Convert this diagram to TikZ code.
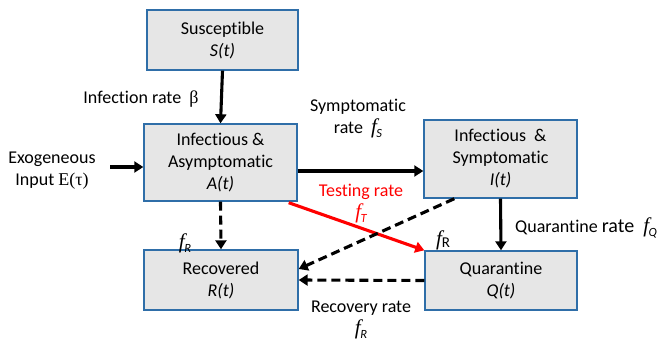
\documentclass[tikz,border=0pt]{standalone}
\usepackage{fontspec}
\setmainfont{Carlito}[RawFeature=-liga]
\newfontfamily\grk{Liberation Serif}
\usetikzlibrary{arrows.meta}
\definecolor{boxfill}{HTML}{E6E6E6}
\definecolor{boxline}{HTML}{2F6EA8}
\definecolor{testred}{HTML}{FF0000}
% an italic rate symbol f with a subscript
\newcommand\ratesym[1]{{\grk\itshape\fontsize{21}{22}\selectfont f}\kern-0.5pt\raisebox{-0.45ex}{\fontsize{12.5}{12}\selectfont\itshape #1}}
\tikzset{
  compartment/.style={draw=boxline, line width=1.4pt, fill=boxfill,
    align=center, inner sep=0pt, font=\fontsize{18}{22}\selectfont},
  flow/.style={line width=3.1pt, -{Triangle[length=9pt,width=11pt]}},
  recov/.style={flow, dash pattern=on 9pt off 5pt},
  lbl/.style={align=center, inner sep=0pt, font=\fontsize{18}{22}\selectfont}
}
\begin{document}
\begin{tikzpicture}[x=1pt,y=-1pt]
\useasboundingbox (0,0) rectangle (665,343);

% compartments
\node[compartment, minimum width=151pt, minimum height=60pt] (S) at (222.5,40)
  {Susceptible\\\textit{S(t)}};
\node[compartment, minimum width=153pt, minimum height=77pt] (A) at (220.5,162.5)
  {Infectious \&\\Asymptomatic\\\textit{A(t)}};
\node[compartment, minimum width=153pt, minimum height=78pt] (I) at (500.5,159)
  {Infectious \ \&\\Symptomatic\\\textit{I(t)}};
\node[compartment, minimum width=154pt, minimum height=60pt] (R) at (221,280)
  {Recovered\\\textit{R(t)}};
\node[compartment, minimum width=152pt, minimum height=59pt] (Q) at (501,280.5)
  {Quarantine\\\textit{Q(t)}};

% helper points
\coordinate (exo) at (110,167);
\coordinate (asym) at ([yshift=-8.5pt]A.east);

% flows
\draw[flow] (S.south) -- (A.north);
\draw[flow] (exo) -- (exo -| A.west);
\draw[flow] (asym) -- (asym -| I.west);
\draw[flow] (I.south) -- (Q.north);
\draw[flow, testred] ([xshift=-9pt,yshift=-1pt]A.south east) -- (Q.north west);
\draw[recov] (A.south) -- (R.north);
\draw[recov] ([xshift=31pt]I.south west) -- ([yshift=11pt]R.east);
\draw[recov] (Q.west) -- (R.east);

% rate labels
\node[lbl] (linf) at (141,99) {Infection rate \ {\grk β}};
\node[lbl] (lexo) at (52,171) {Exogeneous\\Input {\grk E(τ)}};
\node[lbl] (lsym) at (358,119) {Symptomatic\\rate \ \ratesym{S}};
\node[lbl, text=testred] (ltest) at (361,204) {Testing rate\\\ratesym{T}};
\node[lbl, anchor=west] (lquar) at (515,228)
  {Quarantine {\fontsize{20}{24}\selectfont rate \ \ratesym{Q}}};
\node[lbl] (lfra) at (185,243) {\ratesym{R}};
\node[lbl] (lfrq) at (443,240) {{\grk\itshape\fontsize{21}{22}\selectfont f}\raisebox{-0.3ex}{\fontsize{15}{15}\selectfont R}};
\node[lbl] (lrec) at (361,320) {Recovery rate\\\ratesym{R}};
\end{tikzpicture}
\end{document}
